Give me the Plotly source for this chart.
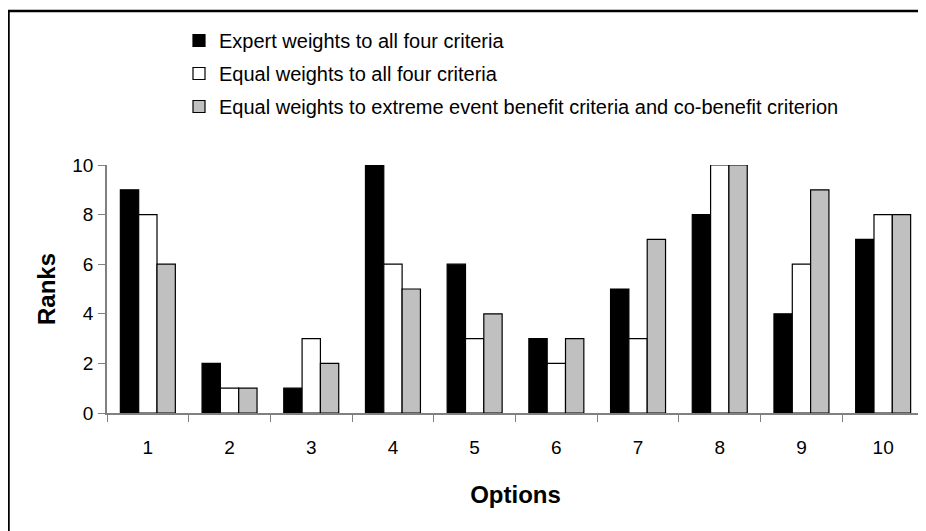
import plotly.graph_objects as go

options = ["1", "2", "3", "4", "5", "6", "7", "8", "9", "10"]
expert = [9, 2, 1, 10, 6, 3, 5, 8, 4, 7]
equal_all = [8, 1, 3, 6, 3, 2, 3, 10, 6, 8]
equal_extreme = [6, 1, 2, 5, 4, 3, 7, 10, 9, 8]
names = [
    "Expert weights to all four criteria",
    "Equal weights to all four criteria",
    "Equal weights to extreme event benefit criteria and co-benefit criterion",
]
colors = ["#000000", "#ffffff", "#c0c0c0"]

W, H = 1000, 600
L, T = 99, 157
R = W - 916
B = H - 405
pw, ph = W - L - R, H - T - B

fig = go.Figure()
for i, (vals, nm, c) in enumerate(zip([expert, equal_all, equal_extreme], names, colors)):
    fig.add_trace(go.Bar(
        x=options, y=vals, name=nm, legendgroup=f"g{i}",
        marker=dict(color=c, line=dict(color="#000000", width=1.2)),
    ))

def px_x(x):
    return (x - L) / pw

def px_y(y):
    return (H - B - y) / ph

fig.update_layout(
    width=W, height=H,
    margin=dict(l=L, r=R, t=T, b=B),
    paper_bgcolor="white", plot_bgcolor="white",
    font=dict(family="Liberation Sans, Arial, sans-serif", size=19, color="#000000"),
    barmode="group", bargap=0.327, bargroupgap=0,
    legend=dict(
        x=px_x(171), y=px_y(13), xanchor="left", yanchor="top",
        traceorder="grouped", tracegroupgap=4, itemwidth=30,
        font=dict(size=20), bgcolor="rgba(0,0,0,0)",
    ),
    xaxis=dict(
        type="category", tickson="boundaries", ticks="outside", ticklen=7,
        tickcolor="#808080", showline=True, linecolor="#808080", linewidth=1.5,
        showgrid=False, tickfont=dict(size=19), ticklabelstandoff=16,
        title=dict(text="<b>Options</b>", font=dict(size=24), standoff=30),
    ),
    yaxis=dict(
        range=[0, 10], tickvals=[0, 2, 4, 6, 8, 10], ticks="outside", ticklen=7,
        tickcolor="#808080", showline=True, linecolor="#808080", linewidth=1.5,
        showgrid=False, zeroline=False, tickfont=dict(size=19), ticklabelstandoff=1,
        title=dict(text="<b>Ranks</b>", font=dict(size=24), standoff=10),
    ),
    shapes=[dict(
        type="rect", xref="paper", yref="paper",
        x0=px_x(0.5), x1=px_x(W - 4), y0=px_y(H - 4), y1=px_y(3),
        line=dict(color="#000000", width=2.5), fillcolor="rgba(0,0,0,0)", layer="below",
    )],
)

fig.write_html("out.html")
